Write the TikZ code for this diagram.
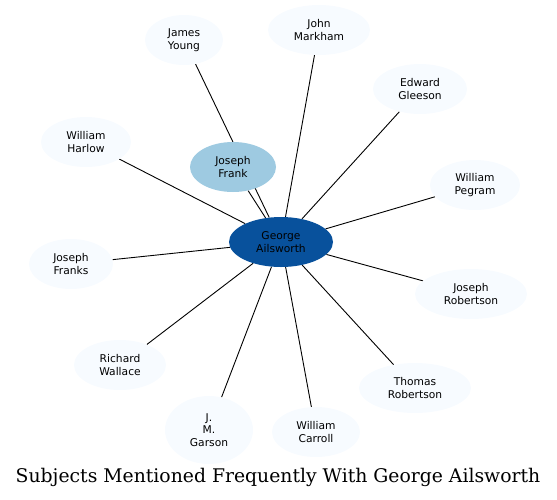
\documentclass[tikz,border=0pt]{standalone}
\usepackage{fontspec}
\usetikzlibrary{shapes.geometric,backgrounds}
\setmainfont{DejaVu Sans}
\newfontfamily\titlefont{DejaVu Serif}
\definecolor{bl1}{HTML}{F7FBFF}
\definecolor{bl3}{HTML}{9ECAE1}
\definecolor{bl7}{HTML}{08519C}
\begin{document}
\begin{tikzpicture}[x=1pt,y=-1pt,
  person/.style={ellipse, fill=bl1, inner sep=0pt, align=center,
    font=\fontsize{10.7}{12.5}\selectfont},
  link/.style={draw=black, line width=0.9pt}]
\useasboundingbox (0,0) rectangle (557,499);
\node[person, fill=bl7, minimum width=104, minimum height=50] (g) at (281,242) {George\\Ailsworth};
\node[person, fill=bl3, minimum width=86, minimum height=50] (jf) at (233,167) {Joseph\\Frank};
\node[person, minimum width=78, minimum height=50] (jy) at (184,40) {James\\Young};
\node[person, minimum width=102, minimum height=50] (jm) at (319,30) {John\\Markham};
\node[person, minimum width=94, minimum height=50] (eg) at (420,89) {Edward\\Gleeson};
\node[person, minimum width=90, minimum height=50] (wp) at (475,185) {William\\Pegram};
\node[person, minimum width=112, minimum height=50] (jr) at (471,294) {Joseph\\Robertson};
\node[person, minimum width=112, minimum height=50] (tr) at (415,388) {Thomas\\Robertson};
\node[person, minimum width=88, minimum height=50] (wc) at (316,432) {William\\Carroll};
\node[person, minimum width=88, minimum height=68] (jg) at (209,430) {J.\\M.\\Garson};
\node[person, minimum width=92, minimum height=50] (rw) at (120,365) {Richard\\Wallace};
\node[person, minimum width=84, minimum height=50] (jfs) at (71,264) {Joseph\\Franks};
\node[person, minimum width=90, minimum height=50] (wh) at (86,142) {William\\Harlow};
\begin{pgfonlayer}{background}
\foreach \n in {jf,jy,jm,eg,wp,jr,tr,wc,jg,rw,jfs,wh}
  \draw[link] (g) -- (\n);
\end{pgfonlayer}
\node[font=\titlefont\fontsize{18.8}{21}\selectfont] (title) at (278,477) {Subjects Mentioned Frequently With George Ailsworth};
\end{tikzpicture}
\end{document}
